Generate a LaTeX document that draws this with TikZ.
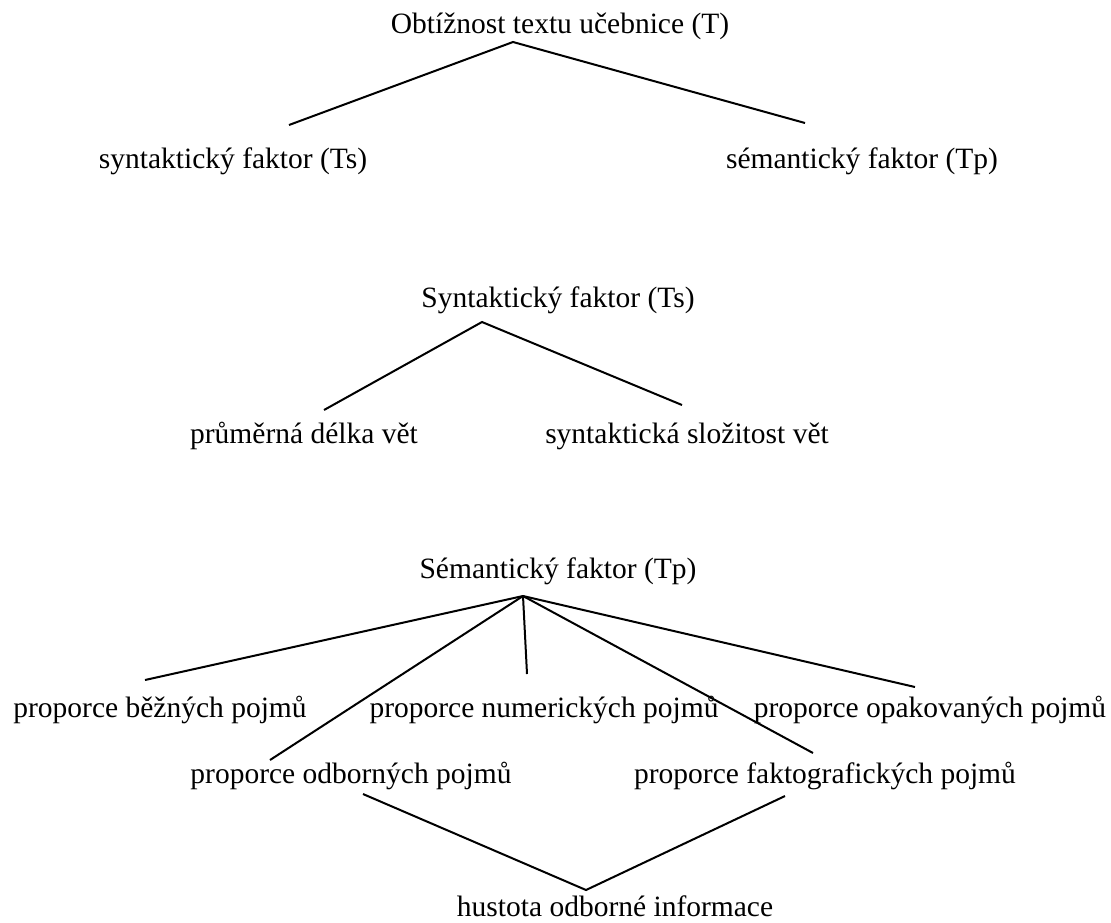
\documentclass[tikz,border=0pt]{standalone}
\usepackage{fontspec}
\setmainfont{Liberation Serif}
\begin{document}
\begin{tikzpicture}[x=0.5pt,y=-0.5pt,line width=1pt,
  every node/.style={font=\fontsize{14.75}{17}\selectfont,inner sep=0pt,anchor=base}]
  \useasboundingbox (0,0) rectangle (1111,922);
  % obtiznost textu
  \node (T) at (560,33) {Obtížnost textu učebnice (T)};
  \node (Ts) at (233,168) {syntaktický faktor (Ts)};
  \node (Tp) at (862,168) {sémantický faktor (Tp)};
  \coordinate (T-k) at (513,42);
  \coordinate (Ts-k) at (289,125);
  \coordinate (Tp-k) at (805,123);
  \draw (Ts-k) -- (T-k) -- (Tp-k);
  % syntakticky faktor
  \node (S) at (558,307) {Syntaktický faktor (Ts)};
  \node (delka) at (304,443) {průměrná délka vět};
  \node (slozitost) at (687,443) {syntaktická složitost vět};
  \coordinate (S-k) at (482,322);
  \coordinate (delka-k) at (324,410);
  \coordinate (slozitost-k) at (682,405);
  \draw (delka-k) -- (S-k) -- (slozitost-k);
  % semanticky faktor
  \node (P) at (558,578) {Sémantický faktor (Tp)};
  \node (bezne) at (160,717) {proporce běžných pojmů};
  \node (numer) at (544,717) {proporce numerických pojmů};
  \node (opak) at (930,717) {proporce opakovaných pojmů};
  \node (odbor) at (351,783) {proporce odborných pojmů};
  \node (fakto) at (825,783) {proporce faktografických pojmů};
  \node (hustota) at (615,916) {hustota odborné informace};
  \coordinate (P-k) at (523,596);
  \coordinate (bezne-k) at (145,680);
  \coordinate (odbor-k) at (270,760);
  \coordinate (numer-k) at (527,674);
  \coordinate (fakto-k) at (813,753);
  \coordinate (opak-k) at (915,687);
  \foreach \k in {bezne,odbor,numer,fakto,opak}
    \draw (P-k) -- (\k-k);
  \coordinate (odbor-d) at (363,794);
  \coordinate (fakto-d) at (785,796);
  \coordinate (hustota-k) at (586,890);
  \draw (odbor-d) -- (hustota-k) -- (fakto-d);
\end{tikzpicture}
\end{document}
